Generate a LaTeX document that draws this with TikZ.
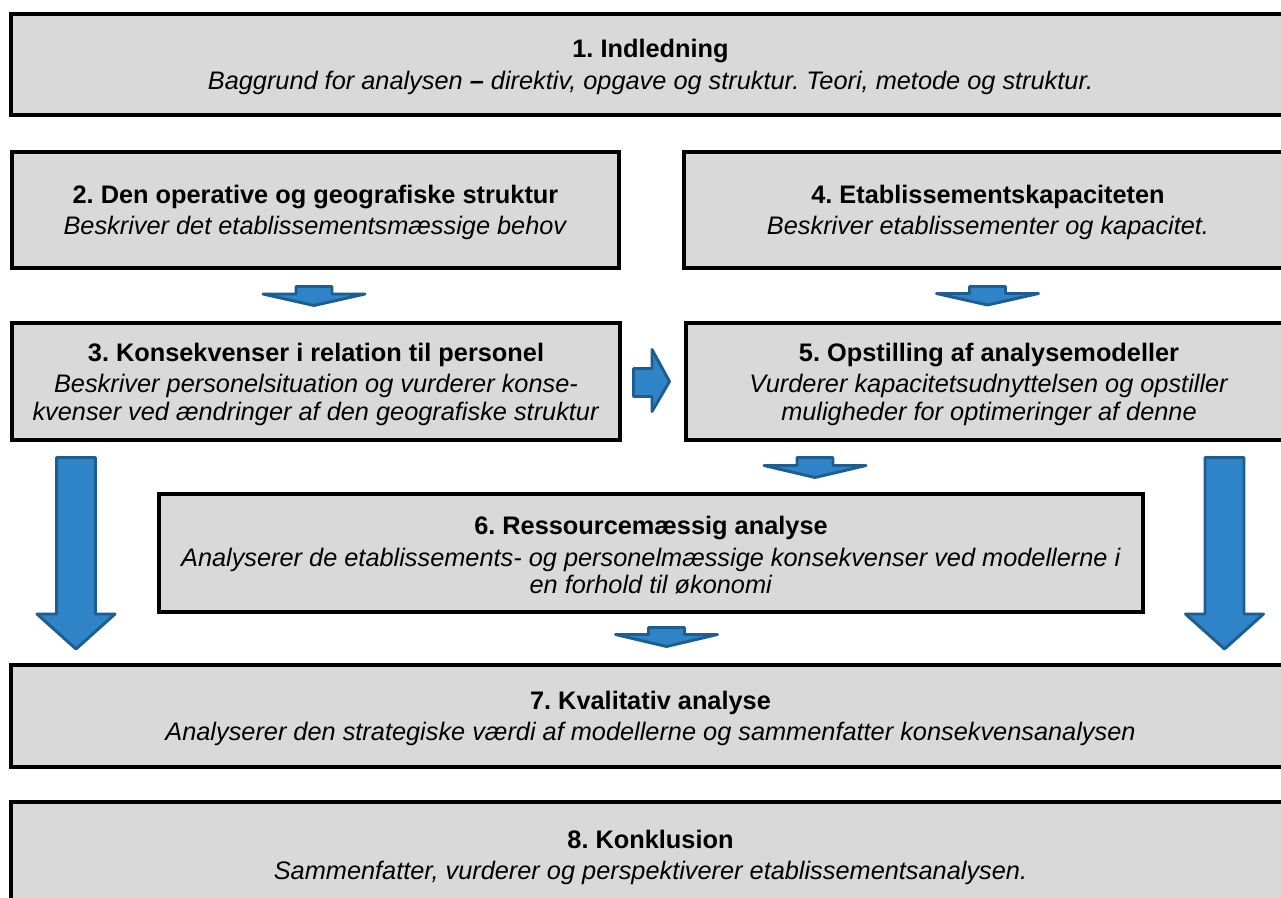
\documentclass[tikz,border=0pt]{standalone}
\usepackage{fontspec}
\setmainfont{Liberation Sans}
\definecolor{boxgray}{RGB}{217,217,217}
\definecolor{arrowfill}{RGB}{46,132,198}
\definecolor{arrowedge}{RGB}{28,94,145}
% block arrow pointing down: centre x, shaft width, head width, top, head start, tip
\newcommand\downblock[6]{%
  \draw[blockarrow] ({#1-#2/2},#4) -- ({#1+#2/2},#4) -- ({#1+#2/2},#5)
    -- ({#1+#3/2},#5) -- (#1,#6) -- ({#1-#3/2},#5) -- ({#1-#2/2},#5) -- cycle;}
% bold heading line of a box, with a strut that sets the text a little lower
\newcommand\boxtitle[1]{\rule{0pt}{17.5pt}\textbf{#1}\\[3.6pt]}
\begin{document}
\frenchspacing
\begin{tikzpicture}[x=0.75pt,y=-0.75pt,
  box/.style={draw=black, fill=boxgray, line width=3pt, inner sep=0pt,
    align=center, font=\fontsize{19}{20.3}\selectfont},
  blockarrow/.style={draw=arrowedge, fill=arrowfill, line width=2.2pt, line join=round}]
\useasboundingbox (0,0) rectangle (1281,897);
\clip (0,0) rectangle (1281,897);

% chapter boxes
\node[box, minimum width=1279*0.75pt, minimum height=101*0.75pt] (ch1) at (650.5,64.5)
  {\boxtitle{1. Indledning}
   \textit{Baggrund for analysen \textbf{–} direktiv, opgave og struktur. Teori, metode og struktur.}};
\node[box, minimum width=607*0.75pt, minimum height=116*0.75pt] (ch2) at (315.5,210)
  {\boxtitle{2. Den operative og geografiske struktur}
   \textit{Beskriver det etablissementsmæssige behov}};
\node[box, minimum width=608*0.75pt, minimum height=116*0.75pt] (ch4) at (988,210)
  {\boxtitle{4. Etablissementskapaciteten}
   \textit{Beskriver etablissementer og kapacitet.}};
\node[box, minimum width=608*0.75pt, minimum height=117*0.75pt] (ch3) at (316,381.5)
  {\boxtitle{3. Konsekvenser i relation til personel}
   \textit{Beskriver personelsituation og vurderer konse-}\\
   \textit{kvenser ved ændringer af den geografiske struktur}};
\node[box, minimum width=606*0.75pt, minimum height=117*0.75pt] (ch5) at (989,381.5)
  {\boxtitle{5. Opstilling af analysemodeller}
   \textit{Vurderer kapacitetsudnyttelsen og opstiller}\\
   \textit{muligheder for optimeringer af denne}};
\node[box, minimum width=984*0.75pt, minimum height=118*0.75pt] (ch6) at (651,553)
  {\boxtitle{6. Ressourcemæssig analyse}
   \textit{Analyserer de etablissements- og personelmæssige konsekvenser ved modellerne i}\\
   \textit{en forhold til økonomi}};
\node[box, minimum width=1279*0.75pt, minimum height=102*0.75pt] (ch7) at (650.5,716)
  {\boxtitle{7. Kvalitativ analyse}
   \textit{Analyserer den strategiske værdi af modellerne og sammenfatter konsekvensanalysen}};
\node[box, minimum width=1279*0.75pt, minimum height=106*0.75pt] (ch8) at (650.5,855)
  {\boxtitle{8. Konklusion}
   \textit{Sammenfatter, vurderer og perspektiverer etablissementsanalysen.}};

% short flat arrows between rows
\downblock{314}{36}{102}{286.5}{294}{305.5}
\downblock{987.5}{36}{102}{286.5}{293.5}{305}
\downblock{815}{36}{102}{457.5}{465.5}{477.5}
\downblock{666.5}{36}{102}{627.5}{634.5}{646.5}

% long arrows past the resource analysis
\downblock{76}{39}{78}{457.5}{614}{649}
\downblock{1224.5}{39}{78}{457.5}{614}{649}

% arrow from personnel consequences to analysis models
\draw[blockarrow] (633.5,368.5) -- (652,368.5) -- (652,349.5) -- (669.5,381.5)
  -- (652,411.5) -- (652,396.5) -- (633.5,396.5) -- cycle;
\end{tikzpicture}
\end{document}
